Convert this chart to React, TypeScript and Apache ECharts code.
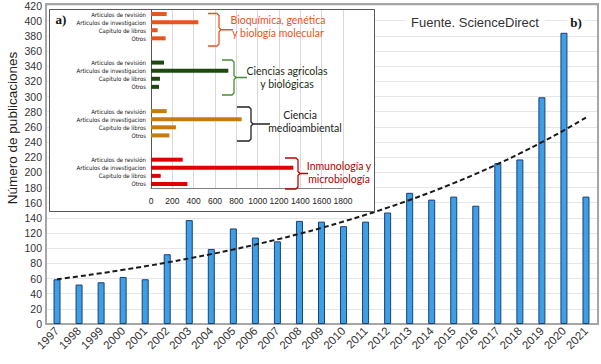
import React, { useEffect, useRef } from "react";
import * as echarts from "echarts";

// ---- Main chart (b) data ----
const years = ["1997","1998","1999","2000","2001","2002","2003","2004","2005","2006","2007","2008","2009","2010","2011","2012","2013","2014","2015","2016","2017","2018","2019","2020","2021"];
const publications = [59, 52, 55, 62, 59, 92, 137, 99, 126, 114, 109, 136, 135, 129, 135, 147, 173, 164, 168, 156, 212, 217, 299, 384, 168];

// ---- Inset chart (a) data ----
const docTypes = ["Articulos de revisión", "Articulos de investigacion", "Capitulo de libros", "Otros"];
const bioquimica = [147, 444, 62, 137];
const agricolas = [122, 725, 84, 75];
const medioambiental = [147, 850, 234, 172];
const inmunologia = [297, 1334, 91, 341];
const groupColors = ["#e8541c", "#1e4a10", "#c47c12", "#e00000"];

function buildInset() {
  const groups = [bioquimica, agricolas, medioambiental, inmunologia];
  const cats: string[] = [];
  const labels: string[] = [];
  const data: any[] = [];
  groups.forEach((g, gi) => {
    g.forEach((v, i) => {
      cats.push("g" + gi + "r" + i);
      labels.push(docTypes[i]);
      data.push({ value: v, itemStyle: { color: groupColors[gi] } });
    });
    if (gi < groups.length - 1) {
      for (let k = 0; k < 2; k++) {
        cats.push("gap" + gi + "_" + k);
        labels.push("");
        data.push("-");
      }
    }
  });
  return { cats, labels, data };
}

function expTrend(vals: number[]) {
  const n = vals.length;
  const ly = vals.map((v) => Math.log(v));
  const mx = (n - 1) / 2;
  const my = ly.reduce((a, b) => a + b, 0) / n;
  let sxy = 0, sxx = 0;
  for (let i = 0; i < n; i++) {
    sxy += (i - mx) * (ly[i] - my);
    sxx += (i - mx) * (i - mx);
  }
  const b = sxy / sxx;
  const a = my - b * mx;
  return vals.map((_, i) => +Math.exp(a + b * i).toFixed(2));
}

function brace(x0: number, xv: number, y0: number, y1: number, xt: number, color: string) {
  const ym = (y0 + y1) / 2;
  return {
    type: "polyline",
    z: 9,
    shape: {
      points: [[x0, y0], [xv - 2, y0], [xv, y0 + 2], [xv, ym - 2], [xv + 2, ym], [xt, ym], [xv + 2, ym], [xv, ym + 2], [xv, y1 - 2], [xv - 2, y1], [x0, y1]],
    },
    style: { stroke: color, lineWidth: 1.3, fill: null },
  };
}

function txt(x: number, y: number, text: string, fill: string, font: string, align = "center", extra: any = {}, rotation = 0) {
  return {
    type: "text",
    z: 9,
    x,
    y,
    rotation,
    style: { text, fill, font, align, verticalAlign: "middle", textAlign: align, textVerticalAlign: "middle", ...extra },
  };
}

export default function App() {
  const ref = useRef<HTMLDivElement>(null);
  useEffect(() => {
    document.body.style.margin = "0";
    if (!ref.current) return;
    const chart = echarts.init(ref.current, null, { renderer: "svg" });
    const inset = buildInset();
    const trend = expTrend(publications);
    const sans = "'Liberation Sans', Arial, sans-serif";
    const cond = "'DejaVu Sans Condensed', 'Liberation Sans Narrow', sans-serif";
    const option: any = {
      animation: false,
      backgroundColor: "#ffffff",
      grid: [
        { left: 46, top: 5, right: 4, bottom: 40 },
        { left: 151, top: 10, width: 192, height: 178 },
      ],
      xAxis: [
        {
          type: "category",
          gridIndex: 0,
          data: years,
          axisLine: { lineStyle: { color: "#a6a6a6", width: 1.5 } },
          axisTick: { show: false },
          axisLabel: { rotate: 45, interval: 0, fontSize: 11.5, color: "#333", fontFamily: sans, margin: 5 },
        },
        {
          type: "value",
          gridIndex: 1,
          z: 6,
          min: 0,
          max: 1800,
          interval: 200,
          axisLine: { show: true, lineStyle: { color: "#7f7f7f", width: 1 } },
          axisTick: { show: false },
          splitLine: { lineStyle: { color: "#d9d9d9", width: 1 } },
          axisLabel: { fontSize: 8.5, color: "#222", fontFamily: sans, margin: 8, formatter: (v: number) => String(v) },
        },
      ],
      yAxis: [
        {
          type: "value",
          gridIndex: 0,
          min: 0,
          max: 420,
          interval: 20,
          axisLine: { show: true, lineStyle: { color: "#a6a6a6", width: 2 } },
          axisTick: { show: false },
          splitLine: { lineStyle: { color: "#e6e6e6", width: 1 } },
          axisLabel: { fontSize: 10.5, color: "#333", fontFamily: sans, margin: 4, formatter: (v: number) => String(v) },
        },
        {
          type: "category",
          gridIndex: 1,
          z: 6,
          inverse: true,
          data: inset.cats,
          axisLine: { show: true, lineStyle: { color: "#555", width: 1 } },
          axisTick: { show: false },
          axisLabel: {
            interval: 0,
            fontSize: 6,
            color: "#111",
            fontFamily: cond,
            margin: 5,
            formatter: (v: string) => inset.labels[inset.cats.indexOf(v)],
          },
        },
      ],
      series: [
        {
          type: "bar",
          xAxisIndex: 0,
          yAxisIndex: 0,
          z: 2,
          data: publications,
          barWidth: 7,
          itemStyle: { color: "#3d9fe6", borderColor: "#1d3f73", borderWidth: 1 },
        },
        {
          type: "line",
          xAxisIndex: 0,
          yAxisIndex: 0,
          z: 3,
          data: trend,
          smooth: true,
          symbol: "none",
          lineStyle: { color: "#1a1a1a", width: 2, type: [5, 3] },
        },
        {
          type: "bar",
          xAxisIndex: 1,
          yAxisIndex: 1,
          z: 7,
          data: inset.data,
          barWidth: 4,
        },
      ],
      graphic: [
        {
          type: "rect",
          z: 1,
          shape: { x: 46, y: 4, width: 552, height: 320 },
          style: { fill: "none", stroke: "#a6a6a6", lineWidth: 2 },
        },
        {
          type: "rect",
          z: 5,
          shape: { x: 49.5, y: 9.5, width: 325, height: 202 },
          style: { fill: "#ffffff", stroke: "#595959", lineWidth: 1 },
        },
        txt(12, 128, "Número de publicaciones", "#222", "13.5px 'Liberation Sans', Arial, sans-serif", "center", {}, Math.PI / 2),
        txt(61, 19, "a)", "#111", "bold 13px 'Liberation Serif', serif"),
        txt(475, 22, "Fuente. ScienceDirect", "#333", "13px 'Liberation Sans', Arial, sans-serif", "center", { backgroundColor: "#fff", padding: [1, 6] }),
        txt(576, 22, "b)", "#111", "bold 13px 'Liberation Serif', serif", "center", { backgroundColor: "#fff", padding: [1, 3] }),
        brace(208, 219, 13.5, 46, 233, "#e8541c"),
        txt(278, 20, "Bioquímica, genética", "#e8541c", "10.5px Lato, sans-serif"),
        txt(278, 33, "y biología molecular", "#e8541c", "10.5px Lato, sans-serif"),
        brace(222, 234, 60, 95, 247, "#4a8a36"),
        txt(287, 71, "Ciencias agricolas", "#1c2e12", "10.5px Lato, sans-serif"),
        txt(287, 84, "y biológicas", "#1c2e12", "10.5px Lato, sans-serif"),
        brace(237, 251, 107, 141, 270, "#222"),
        txt(300, 115, "Ciencia", "#222", "10.5px Lato, sans-serif"),
        txt(305, 128, "medioambiental", "#222", "10.5px Lato, sans-serif"),
        brace(285, 298, 158, 189, 308, "#c00000"),
        txt(339, 166, "Inmunología y", "#b00000", "10.5px Lato, sans-serif"),
        txt(339, 179, "microbiología", "#b00000", "10.5px Lato, sans-serif"),
      ],
    };
    chart.setOption(option);
    return () => chart.dispose();
  }, []);
  return <div ref={ref} style={{ position: "absolute", left: 0, top: 0, width: 601, height: 364 }} />;
}
